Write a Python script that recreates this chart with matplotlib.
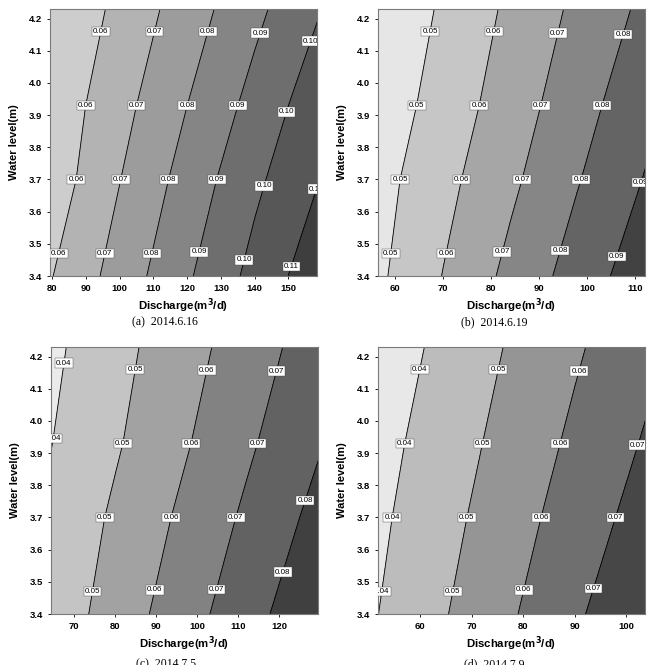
import numpy as np
import matplotlib
matplotlib.use('Agg')
import matplotlib.pyplot as plt

# ---------------- dados ----------------
# niveis d'agua (linhas da grade) comuns aos 4 paineis
nivel = [3.4, 3.7, 3.93, 4.23]

# (a) 2014.6.16
q_a = [79, 100, 120, 140, 159]
z_a = [[0.0591, 0.0742, 0.0887, 0.1031, 0.1163],
       [0.0539, 0.0698, 0.0839, 0.0979, 0.1098],
       [0.0528, 0.0667, 0.0800, 0.0933, 0.1060],
       [0.0498, 0.0626, 0.0750, 0.0875, 0.0994]]
lev_a = [0.06, 0.07, 0.08, 0.09, 0.10, 0.11]

# (b) 2014.6.19
q_b = [56, 70, 84, 98, 112.5]
z_b = [[0.0478, 0.0603, 0.0726, 0.0843, 0.0963],
       [0.0461, 0.0570, 0.0680, 0.0794, 0.0908],
       [0.0436, 0.0542, 0.0650, 0.0760, 0.0873],
       [0.0409, 0.0514, 0.0619, 0.0721, 0.0824]]
lev_b = [0.05, 0.06, 0.07, 0.08, 0.09]

# (c) 2014.7.5
q_c = [64, 80, 96, 112, 130]
z_c = [[0.0434, 0.0543, 0.0651, 0.0760, 0.0884],
       [0.0416, 0.0515, 0.0614, 0.0716, 0.0832],
       [0.0395, 0.0488, 0.0584, 0.0683, 0.0794],
       [0.0376, 0.0467, 0.0556, 0.0648, 0.0753]]
lev_c = [0.04, 0.05, 0.06, 0.07, 0.08]

# (d) 2014.7.9
q_d = [51.5, 64, 77, 90, 104]
z_d = [[0.0397, 0.0489, 0.0585, 0.0684, 0.0792],
       [0.0379, 0.0465, 0.0555, 0.0646, 0.0742],
       [0.0364, 0.0446, 0.0533, 0.0619, 0.0711],
       [0.0339, 0.0421, 0.0506, 0.0587, 0.0674]]
lev_d = [0.04, 0.05, 0.06, 0.07]

legendas = ['(a)  2014.6.16', '(b)  2014.6.19', '(c)  2014.7.5', '(d)  2014.7.9']

# ---------------- estilo de cada painel ----------------
paineis = [
    dict(q=q_a, z=z_a, lev=lev_a, xlim=(79.3, 158.5), xt=range(80, 151, 10),
         cores=['#cdcdcd', '#b3b3b3', '#9c9c9c', '#858585', '#6e6e6e', '#575757', '#3e3e3e'],
         lab={0.06: [4.16, 3.93, 3.70, 3.47], 0.07: [4.16, 3.93, 3.70, 3.47],
              0.08: [4.16, 3.93, 3.70, 3.47], 0.09: [4.155, 3.93, 3.70, 3.475],
              0.10: [4.13, 3.91, 3.68, 3.45], 0.11: [3.67, 3.43]},
         pos=(50, 9), cy=322),
    dict(q=q_b, z=z_b, lev=lev_b, xlim=(56.4, 112.1), xt=range(60, 111, 10),
         cores=['#e6e6e6', '#c6c6c6', '#a6a6a6', '#868686', '#646464', '#424242'],
         lab={0.05: [4.16, 3.93, 3.70, 3.47], 0.06: [4.16, 3.93, 3.70, 3.47],
              0.07: [4.155, 3.93, 3.70, 3.475], 0.08: [4.15, 3.93, 3.70, 3.48],
              0.09: [3.69, 3.46]},
         pos=(378, 9), cy=322),
    dict(q=q_c, z=z_c, lev=lev_c, xlim=(64.5, 129.5), xt=range(70, 121, 10),
         cores=['#ebebeb', '#c4c4c4', '#a2a2a2', '#828282', '#626262', '#404040'],
         lab={0.04: [4.18, 3.945], 0.05: [4.16, 3.93, 3.70, 3.47],
              0.06: [4.158, 3.93, 3.70, 3.475], 0.07: [4.155, 3.93, 3.70, 3.477],
              0.08: [3.753, 3.53]},
         pos=(51, 347), cy=664),
    dict(q=q_d, z=z_d, lev=lev_d, xlim=(51.8, 103.6), xt=range(60, 101, 10),
         cores=['#e8e8e8', '#bcbcbc', '#959595', '#6f6f6f', '#474747'],
         lab={0.04: [4.16, 3.93, 3.70, 3.47], 0.05: [4.16, 3.93, 3.70, 3.47],
              0.06: [4.155, 3.93, 3.70, 3.475], 0.07: [3.925, 3.70, 3.48]},
         pos=(378, 347), cy=664),
]

W, H = 651, 665
fig = plt.figure(figsize=(W / 100, H / 100), dpi=100)
fonte = 'Liberation Sans'

for p, leg in zip(paineis, legendas):
    x0, y0 = p['pos']
    ax = fig.add_axes([x0 / W, 1 - (y0 + 267) / H, 267 / W, 267 / H])
    Q, Hh = np.meshgrid(p['q'], nivel)
    Z = np.array(p['z'])
    niveis = [Z.min() - 0.01] + p['lev'] + [Z.max() + 0.01]
    ax.contourf(Q, Hh, Z, levels=niveis, colors=p['cores'])
    cs = ax.contour(Q, Hh, Z, levels=p['lev'], colors='black', linewidths=0.6)

    # rotulos das curvas (caixas brancas horizontais)
    for i, lv in enumerate(p['lev']):
        segs = cs.allsegs[i]
        if not segs:
            continue
        seg = max(segs, key=len)
        ordem = np.argsort(seg[:, 1])
        ys, xs = seg[ordem, 1], seg[ordem, 0]
        for yl in p['lab'][lv]:
            yy = min(max(yl, ys[0]), ys[-1])
            xx = np.interp(yy, ys, xs)
            ax.text(xx, yl, f'{lv:.2f}', fontsize=5.8, family=fonte,
                    ha='center', va='center', clip_on=True, zorder=5,
                    bbox=dict(boxstyle='square,pad=0.15', fc='white',
                              ec='#444444', lw=0.3))

    ax.set_xlim(*p['xlim'])
    ax.set_ylim(3.4, 4.23)
    ax.set_xticks(list(p['xt']))
    ax.set_yticks(np.arange(3.4, 4.21, 0.1))
    ax.set_yticklabels([f'{v:.1f}' for v in np.arange(3.4, 4.21, 0.1)])
    ax.tick_params(direction='out', length=2.5, width=0.6, pad=3,
                   labelsize=6.8)
    for t in ax.get_xticklabels() + ax.get_yticklabels():
        t.set_fontweight('bold')
        t.set_family(fonte)
    for s in ax.spines.values():
        s.set_color('#7a7a7a')
        s.set_linewidth(0.8)
    ax.set_xlabel('Discharge(m$^{\\mathbf{3}}$/d)', fontsize=8.2, fontweight='bold',
                  family=fonte, labelpad=2.5)
    ax.set_ylabel('Water level(m)', fontsize=8, fontweight='bold',
                  family=fonte, labelpad=7)

    # legenda abaixo de cada painel
    cx = x0 + (115 if x0 < 300 else 116)
    fig.text(cx / W, 1 - p['cy'] / H, leg, fontsize=8.5, family='Liberation Serif',
             ha='center', va='center')

fig.savefig('out.png', dpi=100)
